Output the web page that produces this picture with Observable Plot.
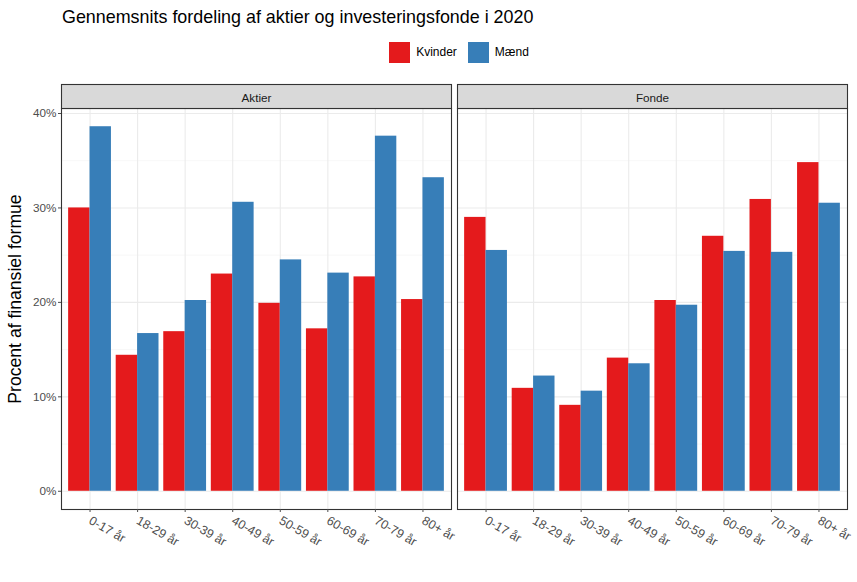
<!DOCTYPE html>
<html>
<head>
<meta charset="utf-8">
<script src="https://cdn.jsdelivr.net/npm/d3@7"></script>
<script src="https://cdn.jsdelivr.net/npm/@observablehq/plot@0.6"></script>
<style>
  body { margin: 0; background: #fff; font-family: "Liberation Sans", Arial, sans-serif; }
  #wrap { width: 857px; position: relative; }
  #title { height: 34px; line-height: 34px; padding-left: 62px; font-size: 17.9px; color: #000; }
  #legend { height: 36px; display: flex; justify-content: center; align-items: center; padding-left: 72px; font-size: 12px; color: #000; }
  .key { display: flex; align-items: center; margin-right: 11px; }
  .sw { width: 21px; height: 21px; margin-right: 6px; }
</style>
</head>
<body>
<div id="wrap">
  <div id="title">Gennemsnits fordeling af aktier og investeringsfonde i 2020</div>
  <div id="legend"></div>
  <div id="chart"></div>
</div>
<script>
const ages = ["0-17 år","18-29 år","30-39 år","40-49 år","50-59 år","60-69 år","70-79 år","80+ år"];
const types = ["Aktier","Fonde"];
const sexes = ["Kvinder","Mænd"];
const colors = ["#E41A1C","#377EB8"];
const aktierKvinder = [30.0,14.4,16.9,23.0,19.9,17.2,22.7,20.3];
const aktierMaend   = [38.6,16.7,20.2,30.6,24.5,23.1,37.6,33.2];
const fondeKvinder  = [29.0,10.9,9.1,14.1,20.2,27.0,30.9,34.8];
const fondeMaend    = [25.5,12.2,10.6,13.5,19.7,25.4,25.3,30.5];
const yTicks = [0,10,20,30,40];
const yMinor = [5,15,25,35];

const series = {
  Aktier: {Kvinder: aktierKvinder, "Mænd": aktierMaend},
  Fonde: {Kvinder: fondeKvinder, "Mænd": fondeMaend}
};
const data = [];
for (const t of types) for (const s of sexes) series[t][s].forEach((v, i) => data.push({type: t, sex: s, i: i + 1, age: ages[i], value: v}));

// legend
const leg = d3.select("#legend");
sexes.forEach((s, k) => {
  const it = leg.append("div").attr("class", "key");
  it.append("div").attr("class", "sw").style("background", colors[k]);
  it.append("span").text(s);
});

const W = 857, H = 512, mT = 38, mB = 73, mL = 61, mR = 10;
const panelH = H - mT - mB;
const barW = 0.45;
const maxV = d3.max(data, d => d.value);
const expand = 0.05 * maxV;

const plot = Plot.plot({
  width: W, height: H,
  marginTop: mT, marginBottom: mB, marginLeft: mL, marginRight: mR,
  style: {fontFamily: '"Liberation Sans", Arial, sans-serif', fontSize: "11.7px", background: "#fff"},
  fx: {domain: types, paddingInner: 6 / 396, paddingOuter: 0, label: null},
  x: {type: "linear", domain: [0.4, ages.length + 0.6]},
  y: {domain: [-expand, maxV + expand]},
  color: {domain: sexes, range: colors},
  marks: [
    Plot.gridY(yMinor, {stroke: "#F2F2F2", strokeOpacity: 1, strokeWidth: 0.6}),
    Plot.gridY(yTicks, {stroke: "#EBEBEB", strokeOpacity: 1, strokeWidth: 1.1}),
    Plot.gridX(d3.range(1, ages.length + 1), {stroke: "#EBEBEB", strokeOpacity: 1, strokeWidth: 1.1}),
    Plot.rectY(data, {
      fx: "type",
      x1: d => d.sex === sexes[0] ? d.i - barW : d.i,
      x2: d => d.sex === sexes[0] ? d.i : d.i + barW,
      y1: 0, y2: "value",
      fill: "sex"
    }),
    Plot.frame({stroke: "#333333", strokeWidth: 1.1}),
    Plot.frame({fill: "#D9D9D9", stroke: "#333333", strokeWidth: 1.1, insetTop: -24, insetBottom: panelH}),
    Plot.axisFx({anchor: "top", tickSize: 0, tickPadding: 7, label: null, color: "#1A1A1A", fontSize: 11.7}),
    Plot.axisY({ticks: yTicks, tickFormat: d => d + "%", tickSize: 3, tickPadding: 2, color: "#4D4D4D", fontSize: 11.7,
      label: "Procent af finansiel formue", labelAnchor: "center", labelArrow: "none", labelOffset: 53}),
    Plot.axisX({ticks: d3.range(1, ages.length + 1), tickFormat: d => ages[d - 1], tickRotate: 30,
      tickSize: 3, tickPadding: 7, color: "#4D4D4D", label: null, fontSize: 12.5})
  ]
});
document.getElementById("chart").appendChild(plot);

const svg = d3.select(plot);
svg.selectAll('g[aria-label="y-axis label"] text').style("font-size", "17.6px").attr("fill", "#000").attr("dx", 10);
svg.selectAll('g[aria-label="y-axis tick"], g[aria-label="x-axis tick"]').attr("stroke", "#333333");
</script>
</body>
</html>
